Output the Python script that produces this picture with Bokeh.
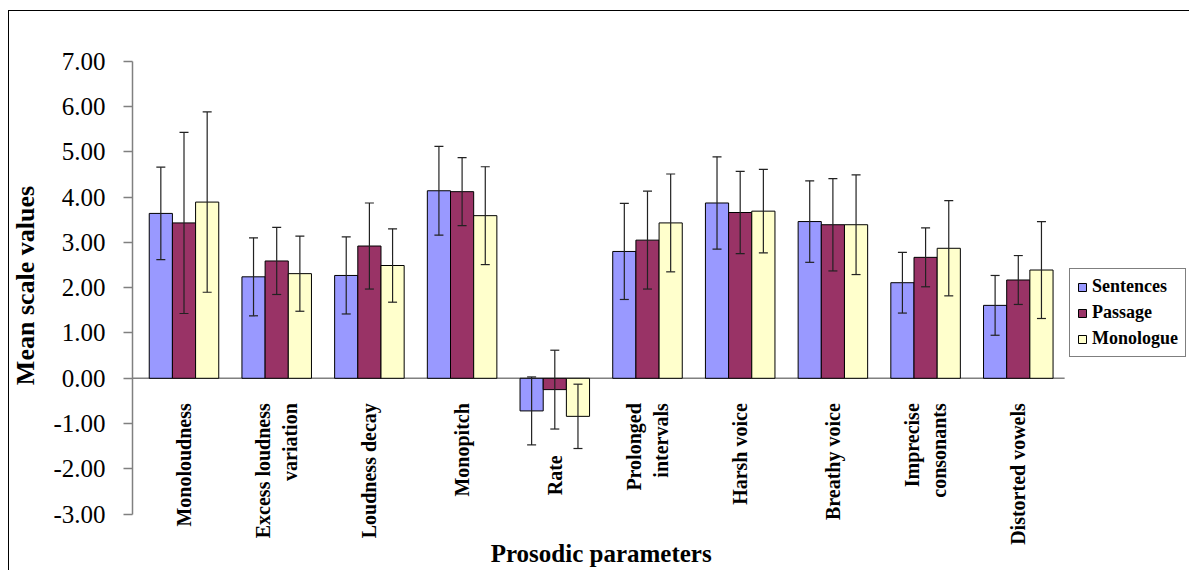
import math
from bokeh.plotting import figure
from bokeh.models import (ColumnDataSource, Range1d, FixedTicker, NumeralTickFormatter,
                          Whisker, TeeHead, Label, Legend)
from bokeh.core.properties import value
from bokeh.embed import file_html
from bokeh.resources import INLINE

# ---------------- data ----------------
categories = ["Monoloudness", "Excess loudness\nvariation", "Loudness decay", "Monopitch", "Rate",
              "Prolonged\nintervals", "Harsh voice", "Breathy voice", "Imprecise\nconsonants",
              "Distorted vowels"]
series_names = ["Sentences", "Passage", "Monologue"]
sentences = [3.64, 2.24, 2.27, 4.14, -0.72, 2.80, 3.87, 3.46, 2.11, 1.61]
passage = [3.43, 2.59, 2.92, 4.12, -0.25, 3.05, 3.66, 3.39, 2.67, 2.17]
monologue = [3.89, 2.31, 2.49, 3.59, -0.84, 3.43, 3.69, 3.39, 2.87, 2.39]
sentences_sd = [1.02, 0.86, 0.85, 0.98, 0.75, 1.06, 1.02, 0.90, 0.67, 0.66]
passage_sd = [2.00, 0.74, 0.95, 0.75, 0.87, 1.08, 0.91, 1.02, 0.65, 0.54]
monologue_sd = [1.99, 0.83, 0.81, 1.08, 0.71, 1.08, 0.92, 1.10, 1.05, 1.07]
y_ticks = [-3, -2, -1, 0, 1, 2, 3, 4, 5, 6, 7]
x_title = "Prosodic parameters"
y_title = "Mean scale values"

colors = ["#9999FF", "#993366", "#FFFFCC"]
SERIF = "Liberation Serif"

# ---------------- figure ----------------
W, H = 1189, 570
p = figure(width=W, height=H, output_backend="svg", toolbar_location=None,
           x_axis_type=None,
           x_range=Range1d(-0.5556, 10.847), y_range=Range1d(-4.243, 8.340),
           min_border_left=132, min_border_right=0, min_border_top=0, min_border_bottom=0)
p.outline_line_color = None
p.background_fill_color = None
p.border_fill_color = None
p.xgrid.visible = False
p.ygrid.visible = False
p.styles = {"background": "linear-gradient(#000,#000) 8px 10px / 100% 1px no-repeat, "
                          "linear-gradient(#000,#000) 8px 10px / 1px 100% no-repeat, #fff"}

# y axis
ax = p.yaxis[0]
ax.bounds = (min(y_ticks), max(y_ticks))
ax.ticker = FixedTicker(ticks=y_ticks)
ax.formatter = NumeralTickFormatter(format="0.00")
ax.minor_tick_line_color = None
ax.major_tick_out = 9
ax.major_tick_in = 0
ax.major_label_standoff = 18
ax.axis_line_color = "#808080"
ax.axis_line_width = 1.5
ax.major_tick_line_color = "#808080"
ax.major_tick_line_width = 1.5
ax.major_label_text_font = SERIF
ax.major_label_text_font_size = "25px"
ax.major_label_text_color = "black"
ax.axis_label = y_title
ax.axis_label_text_font = SERIF
ax.axis_label_text_font_size = "26px"
ax.axis_label_text_font_style = "bold"
ax.axis_label_text_color = "black"
ax.axis_label_standoff = 10

n = len(categories)
xs = list(range(n))

# zero line (category axis)
p.segment(x0=[p.x_range.start], x1=[n - 0.5], y0=[0], y1=[0], line_color="#808080", line_width=1.5)

bar_w = 0.25
offsets = [-bar_w, 0.0, bar_w]
all_vals = [sentences, passage, monologue]
all_sd = [sentences_sd, passage_sd, monologue_sd]
renderers = []
for name, vals, sds, off, col in zip(series_names, all_vals, all_sd, offsets, colors):
    bx = [x + off for x in xs]
    src = ColumnDataSource(dict(x=bx, top=vals,
                                upper=[v + s for v, s in zip(vals, sds)],
                                lower=[v - s for v, s in zip(vals, sds)]))
    r = p.vbar(x="x", top="top", bottom=0, width=bar_w, source=src,
               fill_color=col, line_color="black", line_width=1)
    renderers.append((name, [r]))
    w = Whisker(base="x", upper="upper", lower="lower", source=src, level="overlay",
                line_color="#222222", line_width=1.2,
                upper_head=TeeHead(size=9, line_color="#222222", line_width=1.2),
                lower_head=TeeHead(size=9, line_color="#222222", line_width=1.2))
    p.add_layout(w)

# category labels
lows = [min(0, min(v[i] - s[i] for v, s in zip(all_vals, all_sd))) for i in xs]
label_top = [min(-0.55, lo - 0.15) for lo in lows]
lsrc = ColumnDataSource(dict(x=xs, y=label_top, text=categories))
p.text(x="x", y="y", text="text", source=lsrc, angle=math.pi / 2,
       text_align="right", text_baseline="middle",
       text_font=value(SERIF), text_font_size="20px", text_font_style="bold",
       text_color="black", text_line_height=1.25)

# x title
p.add_layout(Label(x=(n - 1) / 2, y=-3.87, text=x_title, text_align="center",
                   text_baseline="middle", text_font=SERIF, text_font_size="25px",
                   text_font_style="bold", text_color="black"))

legend = Legend(items=renderers, location=(937, 213))
legend.label_text_font = SERIF
legend.label_text_font_size = "18px"
legend.label_text_font_style = "bold"
legend.label_text_color = "black"
legend.glyph_width = 10
legend.glyph_height = 10
legend.label_standoff = 5
legend.label_height = 18
legend.spacing = 5
legend.padding = 7
legend.margin = 0
legend.border_line_color = "black"
legend.border_line_width = 1
legend.background_fill_color = "white"
legend.background_fill_alpha = 1
p.add_layout(legend)

open("out.html", "w").write(file_html(p, INLINE))
